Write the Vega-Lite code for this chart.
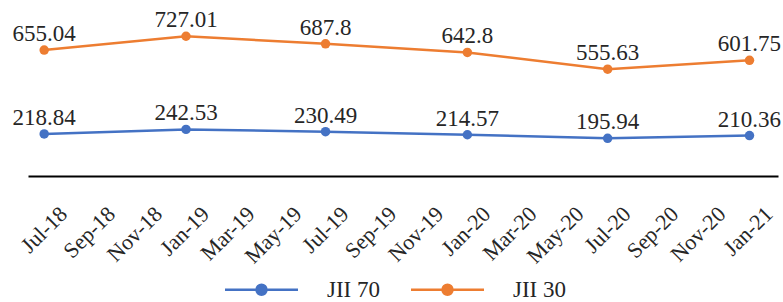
{
  "$schema": "https://vega.github.io/schema/vega-lite/v6.json",
  "width": 750,
  "height": 173,
  "autosize": "none",
  "padding": {"left": 28, "top": 3, "right": 5, "bottom": 126},
  "background": "white",
  "config": {"view": {"stroke": null}, "font": "Liberation Serif"},
  "data": {"values": [
    {"date": "2018-07-01", "series": "JII 70", "value": 218.84},
    {"date": "2019-01-01", "series": "JII 70", "value": 242.53},
    {"date": "2019-07-01", "series": "JII 70", "value": 230.49},
    {"date": "2020-01-01", "series": "JII 70", "value": 214.57},
    {"date": "2020-07-01", "series": "JII 70", "value": 195.94},
    {"date": "2021-01-01", "series": "JII 70", "value": 210.36},
    {"date": "2018-07-01", "series": "JII 30", "value": 655.04},
    {"date": "2019-01-01", "series": "JII 30", "value": 727.01},
    {"date": "2019-07-01", "series": "JII 30", "value": 687.8},
    {"date": "2020-01-01", "series": "JII 30", "value": 642.8},
    {"date": "2020-07-01", "series": "JII 30", "value": 555.63},
    {"date": "2021-01-01", "series": "JII 30", "value": 601.75}
  ]},
  "encoding": {
    "x": {
      "field": "date", "type": "temporal",
      "scale": {"type": "utc", "domain": [{"year": 2018, "month": 6, "date": 10, "utc": true}, {"year": 2021, "month": 2, "date": 7, "utc": true}]},
      "axis": {
        "values": [
          {"year": 2018, "month": 7, "date": 1, "utc": true},
          {"year": 2018, "month": 9, "date": 1, "utc": true},
          {"year": 2018, "month": 11, "date": 1, "utc": true},
          {"year": 2019, "month": 1, "date": 1, "utc": true},
          {"year": 2019, "month": 3, "date": 1, "utc": true},
          {"year": 2019, "month": 5, "date": 1, "utc": true},
          {"year": 2019, "month": 7, "date": 1, "utc": true},
          {"year": 2019, "month": 9, "date": 1, "utc": true},
          {"year": 2019, "month": 11, "date": 1, "utc": true},
          {"year": 2020, "month": 1, "date": 1, "utc": true},
          {"year": 2020, "month": 3, "date": 1, "utc": true},
          {"year": 2020, "month": 5, "date": 1, "utc": true},
          {"year": 2020, "month": 7, "date": 1, "utc": true},
          {"year": 2020, "month": 9, "date": 1, "utc": true},
          {"year": 2020, "month": 11, "date": 1, "utc": true},
          {"year": 2021, "month": 1, "date": 1, "utc": true}
        ],
        "format": "%b-%y",
        "labelAngle": -45,
        "labelAlign": "right",
        "labelBaseline": "middle",
        "labelFontSize": 22,
        "labelFont": "Liberation Serif",
        "labelColor": "#262626",
        "labelPadding": 34,
        "labelOffset": 19,
        "ticks": false,
        "grid": false,
        "domainColor": "#000000",
        "domainWidth": 2,
        "title": null,
        "labelOverlap": false,
        "labelFlush": false,
        "labelBound": false
      }
    },
    "y": {"field": "value", "type": "quantitative", "scale": {"domain": [0, 900]}, "axis": null},
    "color": {
      "field": "series", "type": "nominal",
      "scale": {"domain": ["JII 70", "JII 30"], "range": ["#4472C4", "#ED7D31"]},
      "legend": {
        "orient": "none",
        "legendX": 222,
        "legendY": 275,
        "direction": "horizontal",
        "title": null,
        "padding": 0,
        "labelFontSize": 23,
        "labelFont": "Liberation Serif",
        "labelColor": "#262626",
        "symbolSize": 400,
        "symbolStrokeWidth": 2.5,
        "labelOffset": 54,
        "columnPadding": 25,
        "symbolType": "M-3.65,0L3.65,0M0.5,0A0.5,0.5,0,1,1,-0.5,0A0.5,0.5,0,1,1,0.5,0",
        "encode": {"symbols": {"update": {"fill": {"scale": "color", "field": "value"}, "stroke": {"scale": "color", "field": "value"}, "opacity": {"value": 1}}}}
      }
    }
  },
  "layer": [
    {"mark": {"type": "line", "strokeWidth": 2.5}},
    {"mark": {"type": "point", "filled": true, "size": 90, "opacity": 1}},
    {
      "mark": {"type": "text", "dy": -9, "baseline": "alphabetic", "fontSize": 23, "font": "Liberation Serif"},
      "encoding": {"color": {"value": "#262626"}, "text": {"field": "value", "type": "nominal"}}
    }
  ]
}
